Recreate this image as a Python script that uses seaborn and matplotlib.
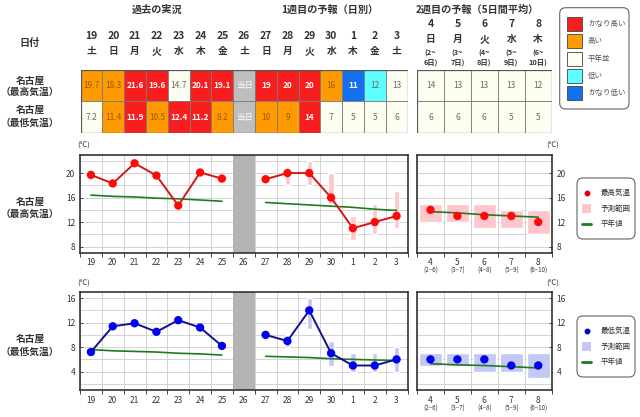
import numpy as np
import pandas as pd
import seaborn as sns
import matplotlib.pyplot as plt
from matplotlib.patches import Rectangle, FancyBboxPatch
import matplotlib.transforms as mtransforms

sns.set_theme(style='white')
plt.rcParams['font.family'] = ['Noto Sans CJK JP', 'DejaVu Sans']

# == Data == #

days1 = ['19', '20', '21', '22', '23', '24', '25', '26', '27', '28', '29', '30', '1', '2', '3']
wdays1 = ['土', '日', '月', '火', '水', '木', '金', '土', '日', '月', '火', '水', '木', '金', '土']
days2 = ['4', '5', '6', '7', '8']
wdays2 = ['日', '月', '火', '水', '木']
spans2 = ['(2~\n6日)', '(3~\n7日)', '(4~\n8日)', '(5~\n9日)', '(6~\n10日)']
ticks2 = ['(2–6)', '(3–7)', '(4–8)', '(5–9)', '(6–10)']

max_obs = [19.7, 18.3, 21.6, 19.6, 14.7, 20.1, 19.1]
min_obs = [7.2, 11.4, 11.9, 10.5, 12.4, 11.2, 8.2]

max_fc = [19, 20, 20, 16, 11, 12, 13]
max_fc_lo = [np.nan, 18, 18, 15, 9, 10, 11]
max_fc_hi = [np.nan, 21, 22, 20, 13, 15, 17]
min_fc = [10, 9, 14, 7, 5, 5, 6]
min_fc_lo = [np.nan, 8, 11, 5, 4, 4, 4]
min_fc_hi = [np.nan, 10, 16, 9, 7, 7, 8]

max_wk2 = [14, 13, 13, 13, 12]
max_wk2_lo = [12, 12, 11, 11, 10]
max_wk2_hi = [15, 15, 15, 14, 14]
min_wk2 = [6, 6, 6, 5, 5]
min_wk2_lo = [5, 5, 4, 4, 3]
min_wk2_hi = [7, 7, 7, 7, 7]

max_norm_obs = [16.4, 16.2, 16.1, 15.9, 15.8, 15.6, 15.4]
max_norm_fc = [15.2, 15.0, 14.8, 14.6, 14.4, 14.1, 13.9]
max_norm_wk2 = [13.7, 13.5, 13.2, 13.0, 12.8]
min_norm_obs = [7.6, 7.4, 7.3, 7.2, 7.0, 6.9, 6.7]
min_norm_fc = [6.5, 6.4, 6.3, 6.1, 6.0, 5.9, 5.8]
min_norm_wk2 = [5.3, 5.1, 5.0, 4.8, 4.6]

# table classes: vh=かなり高い h=高い n=平年並 l=低い vl=かなり低い t=当日
max_cls = ['h', 'h', 'vh', 'vh', 'n', 'vh', 'vh', 't', 'vh', 'vh', 'vh', 'h', 'vl', 'l', 'n']
min_cls = ['n', 'h', 'vh', 'h', 'vh', 'vh', 'h', 't', 'h', 'h', 'vh', 'n', 'n', 'n', 'n']

cls_labels = ['かなり高い', '高い', '平年並', '低い', 'かなり低い']
cls_keys = ['vh', 'h', 'n', 'l', 'vl']

# == Styles == #

CELL = {'vh': '#F81E1E', 'h': '#FF9A00', 'n': '#FDFDF0', 'l': '#5CFFFF',
        'vl': '#1470F0', 't': '#BEBEBE'}
CTXT = {'vh': 'white', 'h': '#9A5A00', 'n': '#6A6A6A', 'l': '#6A6A6A',
        'vl': 'white', 't': 'white'}
CBOLD = {'vh': 'bold', 'h': 'normal', 'n': 'normal', 'l': 'normal',
         'vl': 'bold', 't': 'normal'}
TXT = '#333333'
GREEN = '#1E7B1E'
W, H = 640, 417

fig = plt.figure(figsize=(6.4, 4.17), dpi=100)


def px_axes(x0, y0, x1, y1):
    return fig.add_axes([x0 / W, 1 - y1 / H, (x1 - x0) / W, (y1 - y0) / H])


def fig_text(x, y, s, **kw):
    fig.text(x / W, 1 - y / H, s, ha='center', va='center', color=TXT, **kw)


# == Table == #

n1 = len(days1)
x_obs = np.arange(len(max_obs))
x_fc = np.arange(len(max_obs) + 1, n1)
x2 = np.arange(len(days2))

row_max = ['%.1f' % v for v in max_obs] + ['当日'] + ['%d' % v for v in max_fc]
row_min = ['%.1f' % v for v in min_obs] + ['当日'] + ['%d' % v for v in min_fc]

t1 = px_axes(80.7, 70, 407.5, 132.7)
t2 = px_axes(417, 70, 551.7, 132.7)
for t, n in ((t1, n1), (t2, len(days2))):
    t.set_xlim(-0.5, n - 0.5)
    t.set_ylim(2, 0)
    t.axis('off')

for r, (vals, cls) in enumerate(((row_max, max_cls), (row_min, min_cls))):
    for i, (v, c) in enumerate(zip(vals, cls)):
        t1.add_patch(Rectangle((i - 0.5, r), 1, 1, facecolor=CELL[c],
                               edgecolor='#7A7A7A', lw=0.6))
        t1.text(i, r + 0.5, v, ha='center', va='center', fontsize=6,
                color=CTXT[c], fontweight=CBOLD[c])
for r, vals in enumerate((max_wk2, min_wk2)):
    for i, v in enumerate(vals):
        t2.add_patch(Rectangle((i - 0.5, r), 1, 1, facecolor=CELL['n'],
                               edgecolor='#7A7A7A', lw=0.6))
        t2.text(i, r + 0.5, '%d' % v, ha='center', va='center', fontsize=6,
                color=CTXT['n'])
for t in (t1, t2):
    t.add_patch(Rectangle((-0.5, 0), t.get_xlim()[1] + 0.5, 2, fill=False,
                          edgecolor='#555555', lw=0.9))

for i, (d, w) in enumerate(zip(days1, wdays1)):
    t1.text(i, -1.08, d, ha='center', va='center', fontsize=7.5, color=TXT,
            fontweight='bold', clip_on=False)
    t1.text(i, -0.6, w, ha='center', va='center', fontsize=7, color=TXT,
            fontweight='bold', clip_on=False)
for i, (d, w, s) in enumerate(zip(days2, wdays2, spans2)):
    t2.text(i, -1.48, d, ha='center', va='center', fontsize=7.5, color=TXT,
            fontweight='bold', clip_on=False)
    t2.text(i, -1.0, w, ha='center', va='center', fontsize=7, color=TXT,
            fontweight='bold', clip_on=False)
    t2.text(i, -0.39, s, ha='center', va='center', fontsize=5.3, color=TXT,
            fontweight='bold', clip_on=False, linespacing=1.25)

fig_text(157, 10, '過去の実況', fontsize=7.3, fontweight='bold')
fig_text(330, 10, '1週目の予報（日別）', fontsize=7.3, fontweight='bold')
fig_text(477, 10, '2週目の予報（5日間平均）', fontsize=7.3, fontweight='bold')
fig_text(30, 43, '日付', fontsize=7.3, fontweight='bold')
for y, s in ((81, '名古屋'), (92, '（最高気温）'), (110, '名古屋'), (122.5, '（最低気温）'),
             (201.5, '名古屋'), (214, '（最高気温）'), (339, '名古屋'), (351.5, '（最低気温）')):
    fig_text(30, y, s, fontsize=7, fontweight='bold')

# == Charts == #


def style_axes(ax, n, labels, ylim, yticks, right=False):
    ax.set_xlim(-0.5, n - 0.5)
    ax.set_ylim(*ylim)
    ax.set_xticks(np.arange(n))
    ax.set_xticklabels(labels, fontsize=6, color=TXT)
    ax.set_xticks(np.arange(n + 1) - 0.5, minor=True)
    ax.set_yticks(yticks)
    ax.set_yticks(np.arange(ylim[0] + 1, ylim[1], 2), minor=True)
    ax.tick_params(axis='x', which='major', length=0, pad=4)
    ax.tick_params(axis='x', which='minor', length=3, width=0.7, color='#444444',
                   bottom=True, direction='out')
    ax.tick_params(axis='y', which='major', labelsize=6, labelcolor=TXT, length=2.5,
                   width=0.7, color='#444444', direction='in',
                   left=not right, right=right, labelleft=not right, labelright=right)
    ax.tick_params(axis='y', which='minor', length=0)
    ax.grid(which='minor', axis='x', color='#CCCCCC', lw=0.6)
    ax.grid(which='both', axis='y', color='#CCCCCC', lw=0.6)
    for sp in ax.spines.values():
        sp.set_color('#333333')
        sp.set_linewidth(1.2)
    ax.text(1.01 if right else 0.01, 1.09, '(℃)', transform=ax.transAxes,
            ha='center', va='center', fontsize=5.5, color=TXT)


def draw_row(y0, y1, obs, fc, lo, hi, n_obs, n_fc, wk2, wk2_lo, wk2_hi, n_wk2,
             c_pt, c_line, c_rng, ylim, yticks):
    a1 = px_axes(80, y0, 407.5, y1)
    a2 = px_axes(417, y0, 551.7, y1)
    style_axes(a1, n1, days1, ylim, yticks)
    style_axes(a2, len(days2), days2, ylim, yticks, right=True)

    a1.axvspan(len(obs) - 0.5, len(obs) + 0.5, color='#B4B4B4', zorder=1, lw=0)

    lo, hi = np.array(lo, float), np.array(hi, float)
    ok = ~np.isnan(lo)
    a1.bar(x_fc[ok], hi[ok] - lo[ok], bottom=lo[ok], width=0.25, color=c_rng, zorder=2)
    a2.bar(x2, np.array(wk2_hi) - np.array(wk2_lo), bottom=wk2_lo, width=0.85,
           color=c_rng, zorder=2)

    sns.lineplot(x=x_obs, y=n_obs, ax=a1, color=GREEN, lw=1.2, zorder=3)
    sns.lineplot(x=x_fc, y=n_fc, ax=a1, color=GREEN, lw=1.2, zorder=3)
    sns.lineplot(x=x2, y=n_wk2, ax=a2, color=GREEN, lw=1.2, zorder=4)

    sns.lineplot(x=x_obs, y=obs, ax=a1, color=c_line, lw=1.4, zorder=4)
    sns.lineplot(x=x_fc, y=fc, ax=a1, color=c_line, lw=1.4, zorder=4)
    sns.scatterplot(x=x_obs, y=obs, ax=a1, color=c_pt, s=36, edgecolor='none', zorder=5)
    sns.scatterplot(x=x_fc, y=fc, ax=a1, color=c_pt, s=36, edgecolor='none', zorder=5)
    sns.scatterplot(x=x2, y=wk2, ax=a2, color=c_pt, s=36, edgecolor='none', zorder=5)

    for a in (a1, a2):
        a.set_xlabel('')
        a.set_ylabel('')
    a1.set_xlim(-0.5, n1 - 0.5)
    a2.set_xlim(-0.5, len(days2) - 0.5)
    a1.set_ylim(*ylim)
    a2.set_ylim(*ylim)

    trans = mtransforms.blended_transform_factory(a2.transData, a2.transAxes)
    for i, s in enumerate(ticks2):
        a2.text(i, -0.185, s, transform=trans, ha='center', va='center',
                fontsize=4.5, color=TXT)
    return a1, a2


draw_row(154.7, 252.7, max_obs, max_fc, max_fc_lo, max_fc_hi,
         max_norm_obs, max_norm_fc, max_wk2, max_wk2_lo, max_wk2_hi, max_norm_wk2,
         '#FF0A0A', '#D01818', '#FFC6CC', (7, 23), [8, 12, 16, 20])
draw_row(292, 390, min_obs, min_fc, min_fc_lo, min_fc_hi,
         min_norm_obs, min_norm_fc, min_wk2, min_wk2_lo, min_wk2_hi, min_norm_wk2,
         '#0000F0', '#12128C', '#C4C8F4', (1, 17), [4, 8, 12, 16])

# == Legends (drawn as small boxes in pixel space) == #


def legend_box(x0, y0, x1, y1):
    ax = px_axes(x0, y0, x1, y1)
    ax.set_xlim(x0, x1)
    ax.set_ylim(y1, y0)
    ax.axis('off')
    ax.add_patch(FancyBboxPatch((x0 + 1, y0 + 1), x1 - x0 - 2, y1 - y0 - 2,
                                boxstyle='round,pad=0,rounding_size=6',
                                facecolor='white', edgecolor='#666666', lw=0.8,
                                clip_on=False))
    return ax


def chart_legend(y0, c_pt, c_rng, label):
    ax = legend_box(576, y0, 636, y0 + 63)
    ax.plot([586.7], [y0 + 16], 'o', ms=3.2, color=c_pt)
    ax.add_patch(Rectangle((582, y0 + 27), 9, 9, facecolor=c_rng, edgecolor='none'))
    ax.plot([582, 591], [y0 + 47, y0 + 47], color=GREEN, lw=2)
    for dy, s in ((16, label), (31.5, '予測範囲'), (47, '平年値')):
        ax.text(601, y0 + dy, s, ha='left', va='center', fontsize=5.4, color=TXT)


chart_legend(177, '#E00000', '#FFC6CC', '最高気温')
chart_legend(315, '#0000C8', '#C4C8F4', '最低気温')

lax = legend_box(558.7, 6.7, 630, 110)
for k, (key, s) in enumerate(zip(cls_keys, cls_labels)):
    yc = 24 + k * 17.3
    lax.add_patch(Rectangle((566.7, yc - 7), 15, 14, facecolor=CELL[key],
                            edgecolor='#444444', lw=0.6))
    lax.text(588, yc, s, ha='left', va='center', fontsize=5.4, color='#555555')

fig.savefig('out.png', dpi=100)
